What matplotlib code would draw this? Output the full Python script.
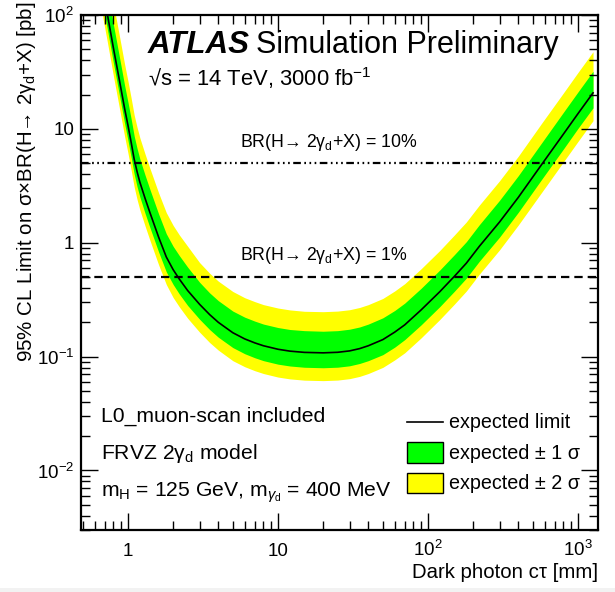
import matplotlib
matplotlib.use("Agg")
import matplotlib.pyplot as plt
from matplotlib.lines import Line2D
from matplotlib.patches import Rectangle

plt.rcParams["font.family"] = ["Liberation Sans", "DejaVu Sans"]
plt.rcParams["mathtext.fontset"] = "custom"
plt.rcParams["mathtext.rm"] = "Liberation Sans"
plt.rcParams["mathtext.it"] = "Liberation Sans:italic"
plt.rcParams["mathtext.bf"] = "Liberation Sans:bold"
plt.rcParams["lines.scale_dashes"] = False

# dark photon ctau [mm]
ctau = [0.66, 0.73, 0.80, 0.88, 0.95, 1.0, 1.05, 1.1, 1.15, 1.2, 1.3, 1.4, 1.6, 1.8,
        2.0, 2.2, 2.5, 3.0, 3.5, 4.0, 5.0, 6.0, 7.0, 8.0, 10, 12, 15, 20, 25, 30,
        35, 40, 50, 60, 70, 90, 120, 150, 180, 220, 300, 400, 575, 800, 1000, 1260]
# expected limit on sigma x BR [pb]
expected = [205, 100, 51, 26, 15, 10.7, 7.6, 5.4, 4.2, 3.4, 2.45, 1.84, 1.12, 0.75,
            0.58, 0.479, 0.38, 0.288, 0.234, 0.2, 0.162, 0.143, 0.132, 0.1245, 0.116,
            0.1117, 0.1089, 0.1079, 0.1091, 0.1122, 0.1175, 0.1245, 0.141, 0.164, 0.19,
            0.257, 0.372, 0.507, 0.66, 0.93, 1.52, 2.5, 4.9, 9.0, 13.6, 20.7]
plus1 = [328, 160, 82, 41.6, 24, 17.1, 12.2, 8.64, 6.72, 5.44, 3.92, 2.94, 1.79, 1.2,
         0.93, 0.77, 0.61, 0.45, 0.363, 0.31, 0.251, 0.222, 0.205, 0.193, 0.18,
         0.173, 0.169, 0.167, 0.169, 0.174, 0.182, 0.193, 0.219, 0.254, 0.295,
         0.398, 0.577, 0.786, 1.02, 1.44, 2.36, 3.88, 7.6, 14, 21.1, 32.1]
minus1 = [152, 74, 37.7, 19.2, 11.1, 7.9, 5.6, 4.0, 3.1, 2.52, 1.81, 1.36, 0.83, 0.555,
          0.43, 0.354, 0.281, 0.213, 0.173, 0.148, 0.12, 0.106, 0.0977, 0.0921, 0.0858,
          0.0827, 0.0806, 0.0798, 0.0807, 0.083, 0.087, 0.0921, 0.104, 0.121, 0.141,
          0.19, 0.275, 0.375, 0.488, 0.688, 1.12, 1.85, 3.63, 6.66, 10.1, 15.3]
plus2 = [502, 245, 125, 63.7, 36.8, 26.2, 18.6, 13.2, 10.3, 8.33, 6.0, 4.5, 2.74, 1.84,
         1.42, 1.17, 0.93, 0.67, 0.54, 0.46, 0.373, 0.329, 0.304, 0.286, 0.267,
         0.257, 0.25, 0.248, 0.251, 0.258, 0.27, 0.286, 0.324, 0.377, 0.437,
         0.591, 0.856, 1.17, 1.52, 2.14, 3.5, 5.75, 11.3, 20.7, 31.3, 47.6]
minus2 = [117, 57, 29, 14.8, 8.55, 6.1, 4.33, 3.08, 2.39, 1.94, 1.40, 1.05, 0.64, 0.43,
          0.33, 0.273, 0.217, 0.164, 0.133, 0.114, 0.092, 0.0815, 0.0752, 0.071, 0.0661,
          0.0637, 0.0621, 0.0615, 0.0622, 0.064, 0.067, 0.071, 0.0804, 0.0935, 0.108,
          0.146, 0.212, 0.289, 0.376, 0.53, 0.866, 1.43, 2.79, 5.13, 7.75, 11.8]

# BR(H -> 2gamma_d + X) reference lines [pb]
br10 = 5.0
br1 = 0.5

xticks = [1, 10, 100, 1000]
xticklabels = ["1", "10", "$10^2$", "$10^3$"]
yticks = [0.01, 0.1, 1, 10, 100]
yticklabels = ["$10^{-2}$", "$10^{-1}$", "1", "10", "$10^2$"]

W, H = 615, 592
fig = plt.figure(figsize=(W / 100, H / 100), dpi=100)
ax = fig.add_axes([81 / W, 1 - 530 / H, (598 - 81) / W, (530 - 15) / H])


def px(x, y):
    # pixel position -> figure fraction
    return x / W, 1 - y / H


ax.fill_between(ctau, minus2, plus2, color="#ffff00", lw=0)
ax.fill_between(ctau, minus1, plus1, color="#00ff00", lw=0)
ax.plot(ctau, expected, color="black", lw=1.2)

ax.axhline(br10, color="black", lw=1.6, dashes=(5.5, 2.5, 1.2, 2.5, 1.2, 2.5, 1.2, 2.5))
ax.axhline(br1, color="black", lw=1.6, dashes=(6, 3.6))

ax.set_xscale("log")
ax.set_yscale("log")
ax.set_xlim(0.486, 1360)
ax.set_ylim(0.003, 100)
ax.set_xticks(xticks, xticklabels)
ax.set_yticks(yticks, yticklabels)
ax.xaxis.set_minor_formatter(matplotlib.ticker.NullFormatter())
ax.yaxis.set_minor_formatter(matplotlib.ticker.NullFormatter())
ax.tick_params(which="both", direction="in", top=True, right=True, width=1.0,
               labelsize=13.5)
ax.tick_params(which="major", length=12)
ax.tick_params(which="minor", length=6.5)
ax.tick_params(axis="x", pad=18.5)
ax.tick_params(axis="y", pad=5)
# x tick labels share one baseline, as in ROOT
for lab in ax.get_xticklabels():
    lab.set_verticalalignment("baseline")
for s in ax.spines.values():
    s.set_linewidth(1.6)

# axis titles (ROOT style, aligned to the axis end)
fig.text(*px(598, 573), "Dark photon c\u03c4 [mm]", ha="right", va="center", fontsize=14.7)
fig.text(*px(27, 2), "95% CL Limit on \u03c3\u00d7BR(H\u2192 2\u03b3$_{\\rm d}$+X) [pb]",
         rotation=90, ha="center", va="top", fontsize=14.8)

fig.text(*px(148, 53), "ATLAS", fontsize=22.5, fontweight="bold", fontstyle="italic",
         va="baseline")
fig.text(*px(256, 53), "Simulation Preliminary", fontsize=22.0, va="baseline")
fig.text(*px(148, 86), "\u221as = 14 TeV, 3000 fb$^{-1}$", fontsize=15.8, va="baseline")

fig.text(*px(240, 147), "BR(H\u2192 2\u03b3$_{\\rm d}$+X) = 10%", fontsize=12.8, va="baseline")
fig.text(*px(240, 260), "BR(H\u2192 2\u03b3$_{\\rm d}$+X) = 1%", fontsize=12.8, va="baseline")

fig.text(*px(101, 422), "L0_muon-scan included", fontsize=15.2, va="baseline")
fig.text(*px(101, 459), "FRVZ 2\u03b3$_{\\rm d}$ model", fontsize=15.2, va="baseline")
fig.text(*px(101, 497), "m$_{\\rm H}$ = 125 GeV, m$_{\\gamma_{\\rm d}}$ = 400 MeV",
         fontsize=15.2, va="baseline")

# legend
x0, y0 = px(407, 422)
x1, _ = px(443, 422)
fig.add_artist(Line2D([x0, x1], [y0, y0], color="black", lw=1.2, transform=fig.transFigure))
for (ytop, ybot, col) in [(442, 463, "#00ff00"), (473, 493, "#ffff00")]:
    bx, by = px(407, ybot)
    fig.add_artist(Rectangle((bx, by), 36 / W, (ybot - ytop) / H, facecolor=col,
                             edgecolor="black", lw=1.0, transform=fig.transFigure))
fig.text(*px(449, 428), "expected limit", fontsize=14.2, va="baseline")
fig.text(*px(449, 459), "expected \u00b1 1 \u03c3", fontsize=14.2, va="baseline")
fig.text(*px(449, 489), "expected \u00b1 2 \u03c3", fontsize=14.2, va="baseline")

# light strip at the bottom of the screenshot
fig.add_artist(Rectangle((0, 0), 1, 4 / H, facecolor="#f2f2f2", lw=0,
                         transform=fig.transFigure))

fig.savefig("out.png", dpi=100)
